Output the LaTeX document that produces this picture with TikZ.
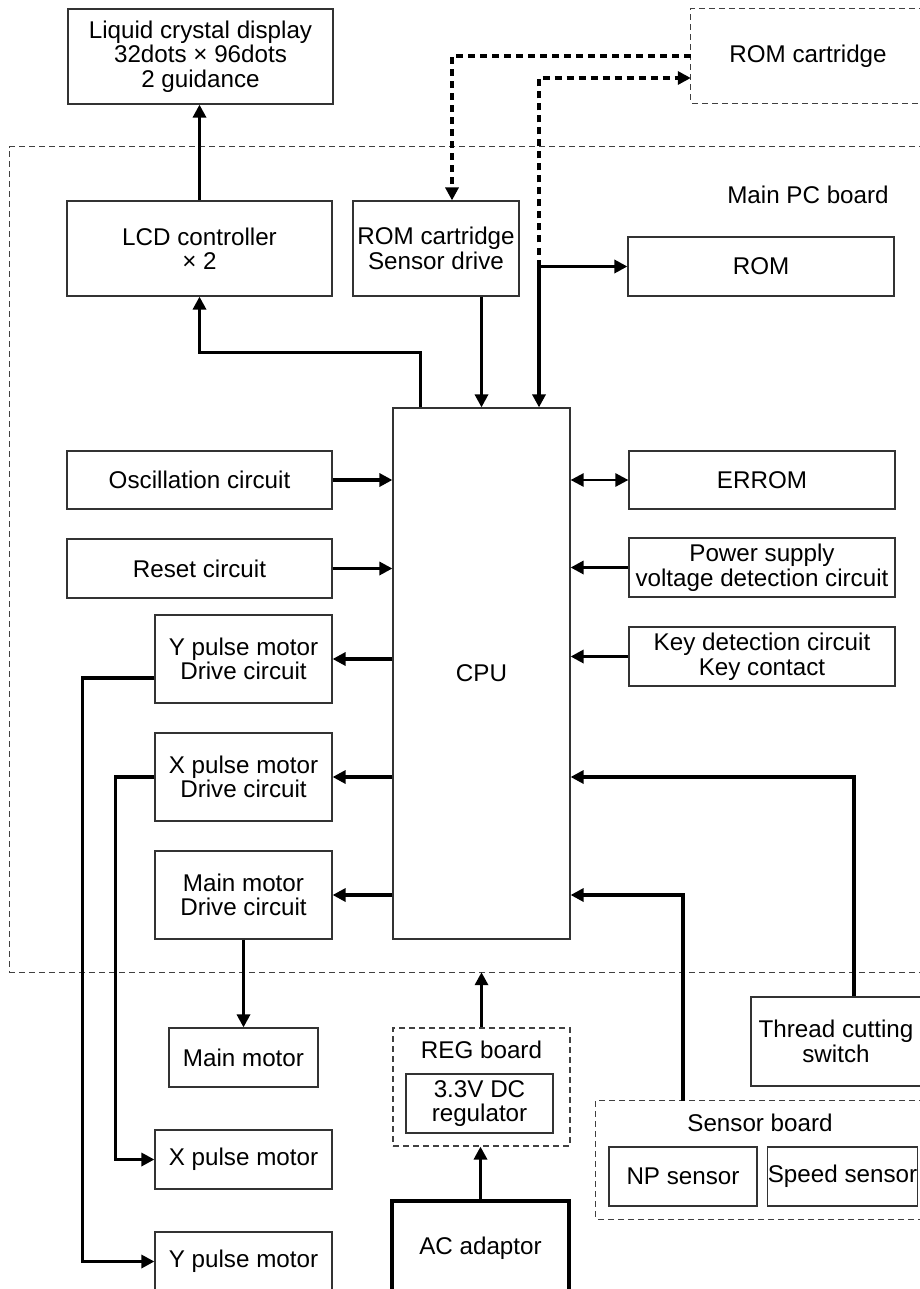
\documentclass[tikz,border=0pt]{standalone}
\usepackage{fontspec}
\setmainfont{Liberation Sans}
\usetikzlibrary{arrows.meta}
\begin{document}
\begin{tikzpicture}[x=1pt,y=-1pt,
  every node/.style={font=\fontsize{24.2}{24.5}\selectfont, align=center, inner sep=0pt},
  sz/.style 2 args={minimum width=#1pt, minimum height=#2pt},
  box/.style={draw=black!80, line width=1.2pt, fill=white},
  heavybox/.style={draw=black, line width=3.2pt, fill=white},
  board/.style={draw=black!75, line width=1.1pt, dash pattern=on 6pt off 4pt},
  tip/.tip={Triangle[length=13pt,width=13pt]},
  arr/.style={line width=3.2pt, -tip},
  dblarr/.style={line width=2.6pt, tip-tip},
  darr/.style={line width=3.2pt, dash pattern=on 7pt off 5pt, -tip}
]
\useasboundingbox (0,0) rectangle (919,1289);

% board outlines (open towards the right edge)
\node[sz={234}{94}] (romcart) at (808,56) {ROM cartridge};
\node[sz={915}{825}] (mainpcb) at (467.5,559.5) {};
\node[sz={329}{118}] (sensorboard) at (760.5,1160) {};
\draw[board] (romcart.north east) -- (romcart.north west) -- (romcart.south west) -- (romcart.south east);
\draw[board] (mainpcb.north east) -- (mainpcb.north west) -- (mainpcb.south west) -- (mainpcb.south east);
\draw[board] (sensorboard.north east) -- (sensorboard.north west) -- (sensorboard.south west) -- (sensorboard.south east);
\node (pcblabel) at (808,195) {Main PC board};

% display and controllers
\node[box, sz={265}{95}] (lcd) at (200.5,56.5) {Liquid crystal display\\32dots × 96dots\\2 guidance};
\node[box, sz={265}{95}] (lcdc) at (199.5,248.5) {LCD controller\\× 2};
\node[box, sz={166}{95}] (romsd) at (436,248.5) {ROM cartridge\\Sensor drive};
\node[box, sz={266}{59}] (rom) at (761,266.5) {ROM};

% CPU and its peripherals
\node[box, sz={177}{531}] (cpu) at (481.5,673.5) {CPU};
\node[box, sz={265}{58}] (osc) at (199.5,480) {Oscillation circuit};
\node[box, sz={265}{59}] (reset) at (199.5,568.5) {Reset circuit};
\node[box, sz={266}{58}] (errom) at (762,480) {ERROM};
\node[box, sz={266}{59}] (power) at (762,567.5) {Power supply\\voltage detection circuit};
\node[box, sz={266}{59}] (key) at (762,656.5) {Key detection circuit\\Key contact};
\node[box, sz={177}{88}] (ydrv) at (243.5,659) {Y pulse motor\\Drive circuit};
\node[box, sz={177}{88}] (xdrv) at (243.5,777) {X pulse motor\\Drive circuit};
\node[box, sz={177}{88}] (mdrv) at (243.5,895) {Main motor\\Drive circuit};

% motors
\node[box, sz={149}{59}] (mmotor) at (243.5,1057.5) {Main motor};
\node[box, sz={177}{59}] (xmotor) at (243.5,1159.5) {X pulse motor};
\node[box, sz={177}{59}] (ymotor) at (243.5,1261.5) {Y pulse motor};

% power supply
\node[board, sz={177}{118}] (regboard) at (481.5,1087) {};
\node (reglabel) at (481.5,1050) {REG board};
\node[box, sz={147}{59}] (reg) at (479.5,1103.5) {3.3V DC\\regulator};
\node[heavybox, sz={177}{94}] (ac) at (480.5,1248) {\raisebox{4pt}{AC adaptor}};

% sensors and switch
\node[box, sz={170}{89}] (thread) at (836,1041.5) {Thread cutting\\switch};
\node (sensorlabel) at (760,1123) {Sensor board};
\node[box, sz={148}{59}] (np) at (683,1176.5) {NP sensor};
\node[box, sz={149}{59}] (speed) at (842.5,1176.5) {Speed sensor};

% connectors
\draw[arr] (lcdc.north) -- (lcdc.north |- lcd.south);
\draw[arr] ([xshift=28pt]cpu.north west) -- ++(0,-55) -| (lcdc.south);
\draw[arr] (cpu.north |- romsd.south) -- (cpu.north);
\draw[darr] (romcart.west) -| ([xshift=16pt]romsd.north);
\coordinate (bus) at (539,266.5);
\draw[arr] (bus) -- (rom.west);
\draw[arr] (bus) -- (bus |- cpu.north);
\draw[darr] (bus) |- ([yshift=-22pt]romcart.west);

\draw[arr] (osc.east) -- (osc.east -| cpu.west);
\draw[arr] (reset.east) -- (reset.east -| cpu.west);
\draw[dblarr] (errom.west -| cpu.east) -- (errom.west);
\draw[arr] (power.west) -- (power.west -| cpu.east);
\draw[arr] (key.west) -- (key.west -| cpu.east);

\draw[arr] (ydrv.east -| cpu.west) -- (ydrv.east);
\draw[arr] (xdrv.east -| cpu.west) -- (xdrv.east);
\draw[arr] (mdrv.east -| cpu.west) -- (mdrv.east);
\draw[arr] ([yshift=-19pt]ydrv.west) -- ++(-72,0) |- (ymotor.west);
\draw[arr] (xdrv.west) -- ++(-39,0) |- (xmotor.west);
\draw[arr] (mdrv.south) -- (mmotor.north);

\draw[arr] (regboard.north) -- (regboard.north |- mainpcb.south);
\draw[arr] (ac.north) -- (ac.north |- regboard.south);
\draw[arr] (np.north |- sensorboard.north) |- (cpu.east |- mdrv.east);
\draw[arr] ([xshift=18pt]thread.north) |- (cpu.east |- xdrv.east);
\end{tikzpicture}
\end{document}
